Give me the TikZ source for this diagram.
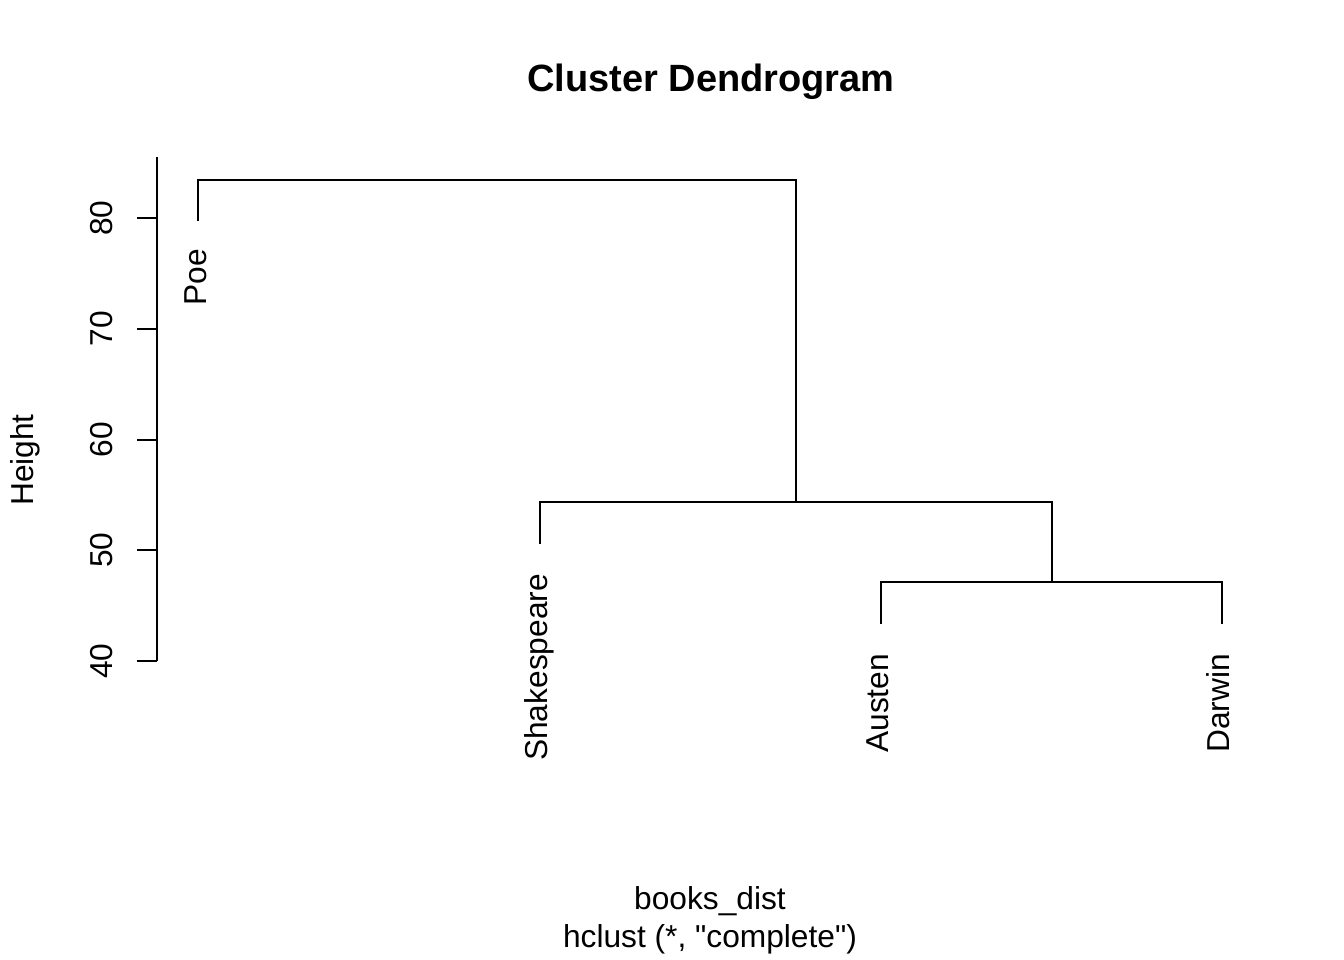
\documentclass[tikz,border=0pt]{standalone}
\usepackage{fontspec}
\setmainfont{Liberation Sans}

\begin{document}
\begin{tikzpicture}[x=1pt, y=-1pt, line width=2pt, line cap=rect,
    lbl/.style={inner sep=0pt, font=\fontsize{31.7}{36}\selectfont},
    leaf/.style={lbl, rotate=90, anchor=base east},
    tick/.style={lbl, rotate=90, anchor=base}]
    \useasboundingbox (0,0) rectangle (1344,960);

    % title and axis labels
    \node[inner sep=0pt, anchor=base, font=\fontsize{38}{44}\selectfont\bfseries] (title) at (711,92) {Cluster Dendrogram};
    \node[lbl, anchor=base] (xlab) at (710,909) {books\_dist};
    \node[lbl, anchor=base] (sub)  at (710,947) {hclust (*, \textquotedbl complete\textquotedbl)};
    \node[lbl, rotate=90, anchor=base] (ylab) at (34,460) {Height};

    % height axis
    \coordinate (atop) at (157,157);
    \coordinate (abot) at (157,661);
    \draw[line cap=butt] (atop) -- (abot);
    \foreach \h/\y in {40/661, 50/550.3, 60/439.5, 70/328.8, 80/218} {
        \draw[line cap=butt] (137,\y) -- (157,\y);
        \node[tick] (t\h) at (112,\y) {\h};
    }

    % leaves
    \coordinate (poe)  at (198,220);
    \coordinate (shak) at (540,543);
    \coordinate (aus)  at (881,623);
    \coordinate (dar)  at (1222,623);
    \node[leaf] (lpoe)  at (206,248)  {Poe};
    \node[leaf] (lshak) at (547,573)  {Shakespeare};
    \node[leaf] (laus)  at (888,653)  {Austen};
    \node[leaf] (ldar)  at (1229,653) {Darwin};

    % merges
    \coordinate (m1) at (1051.5,582);
    \coordinate (m2) at (795.5,502);
    \coordinate (m3) at (496.5,180);
    \draw (aus) |- (m1) -| (dar);
    \draw (shak) |- (m2) -| (m1);
    \draw (poe) |- (m3) -| (m2);
\end{tikzpicture}
\end{document}
